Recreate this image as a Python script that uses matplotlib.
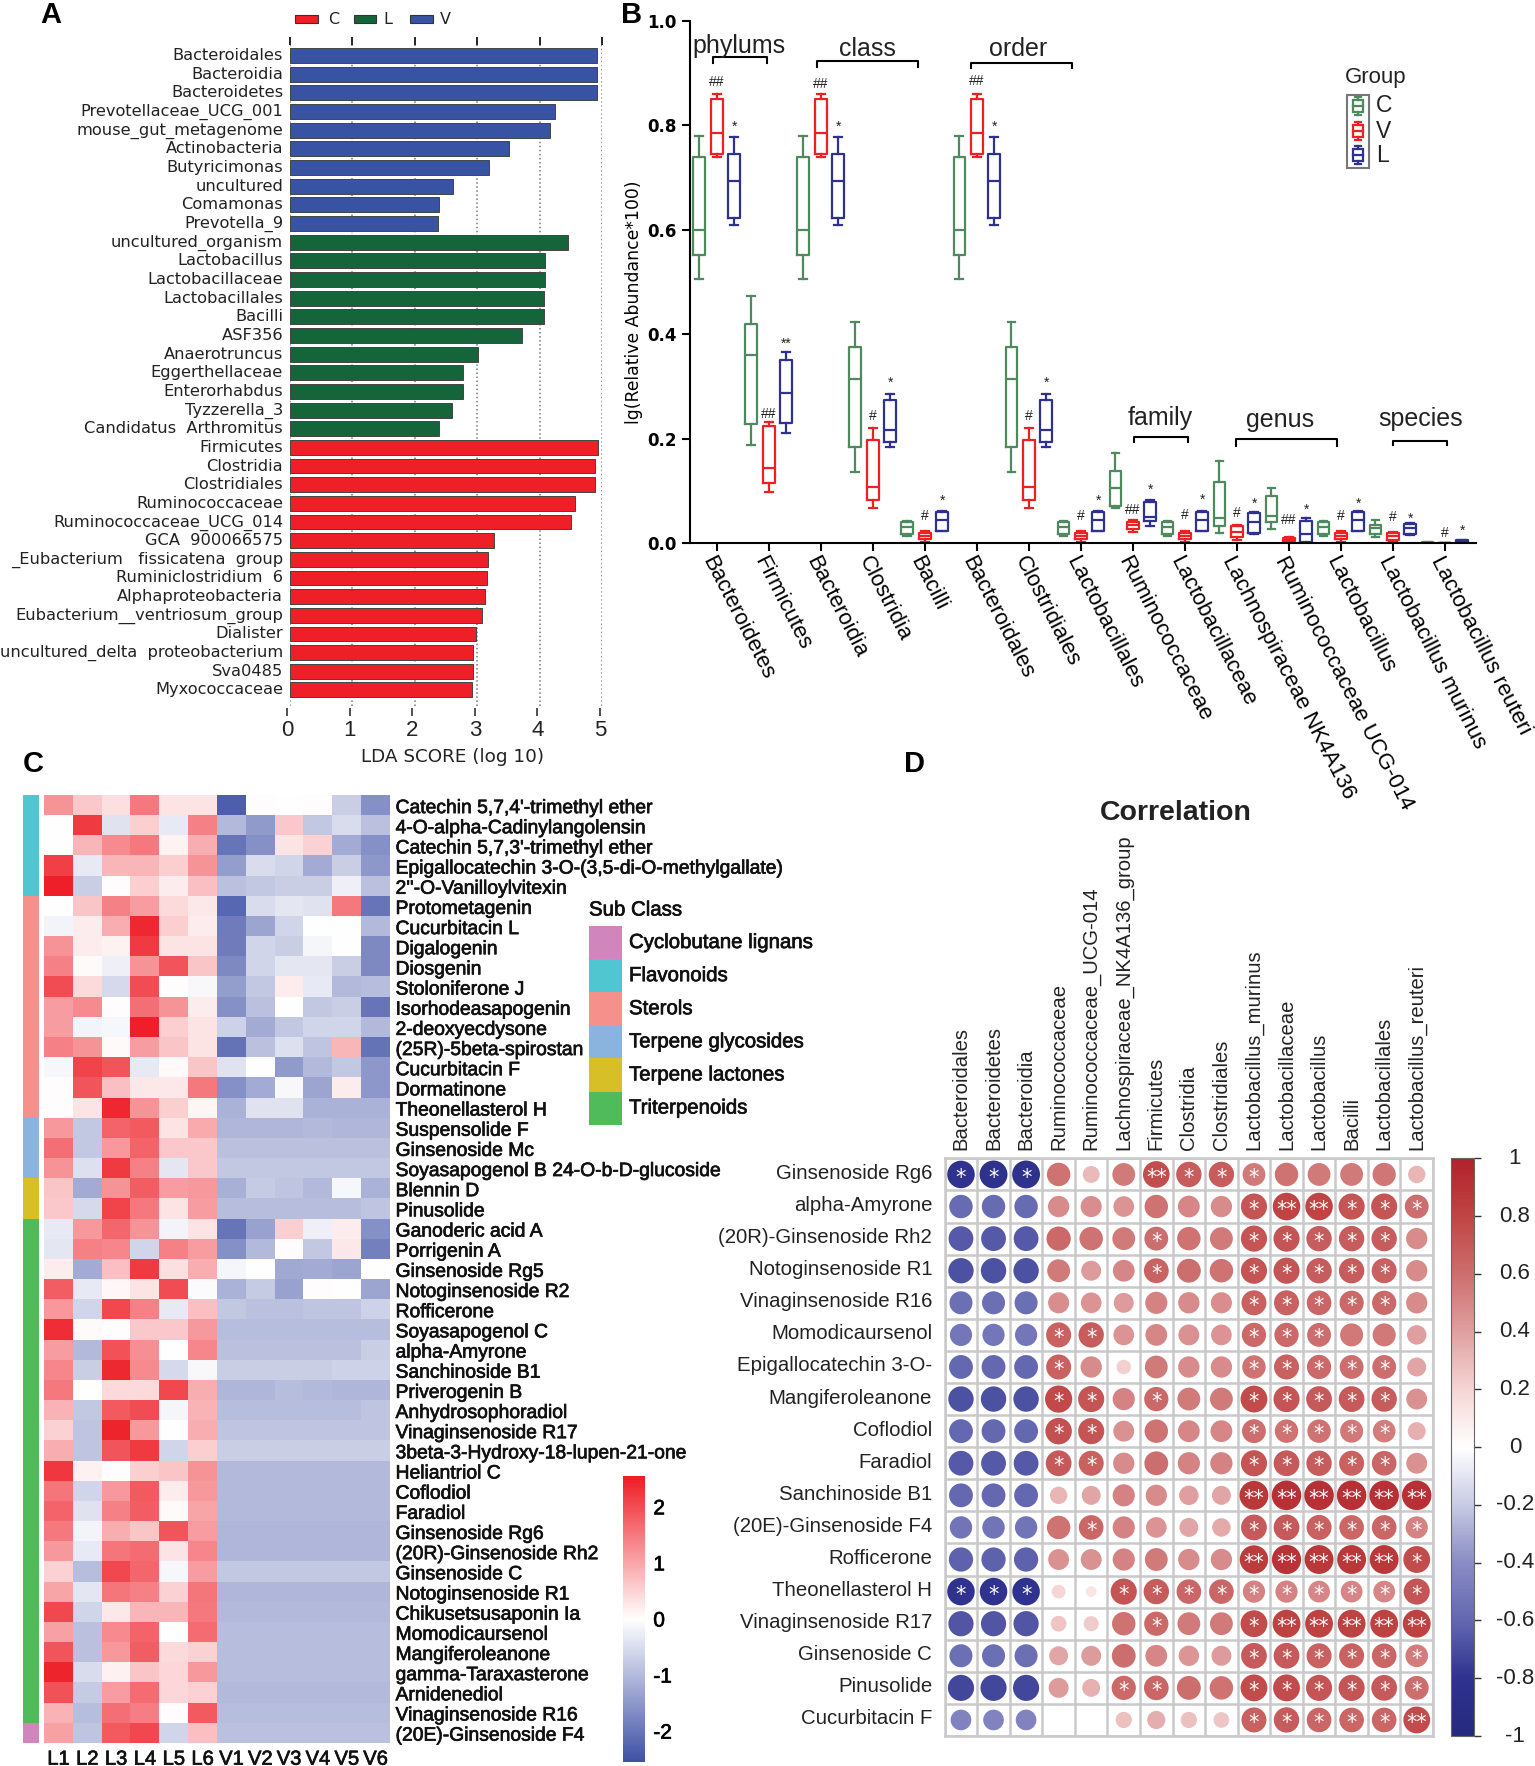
import numpy as np
import matplotlib
matplotlib.use('Agg')
import matplotlib.pyplot as plt
import matplotlib.patheffects as pe
from matplotlib.colors import LinearSegmentedColormap, ListedColormap
from matplotlib.patches import Rectangle
from matplotlib.transforms import ScaledTranslation

W, H = 1535, 1766
plt.rcParams['font.family'] = ['Liberation Sans', 'DejaVu Sans']

# Panel A data
lda_labels = ['Bacteroidales', 'Bacteroidia', 'Bacteroidetes', 'Prevotellaceae_UCG_001', 'mouse_gut_metagenome',
              'Actinobacteria', 'Butyricimonas', 'uncultured', 'Comamonas', 'Prevotella_9',
              'uncultured_organism', 'Lactobacillus', 'Lactobacillaceae', 'Lactobacillales', 'Bacilli', 'ASF356',
              'Anaerotruncus', 'Eggerthellaceae', 'Enterorhabdus', 'Tyzzerella_3', 'Candidatus  Arthromitus',
              'Firmicutes', 'Clostridia', 'Clostridiales', 'Ruminococcaceae', 'Ruminococcaceae_UCG_014',
              'GCA  900066575', '_Eubacterium   fissicatena  group', 'Ruminiclostridium  6', 'Alphaproteobacteria',
              'Eubacterium__ventriosum_group', 'Dialister', 'uncultured_delta  proteobacterium', 'Sva0485',
              'Myxococcaceae']
lda_values = [4.92, 4.92, 4.92, 4.25, 4.16, 3.51, 3.19, 2.62, 2.39, 2.37,
              4.46, 4.09, 4.09, 4.07, 4.07, 3.71, 3.01, 2.77, 2.77, 2.59, 2.39,
              4.93, 4.89, 4.89, 4.57, 4.51, 3.27, 3.18, 3.15, 3.12, 3.08, 2.98, 2.94, 2.93, 2.92]
lda_groups = ['V'] * 10 + ['L'] * 11 + ['C'] * 14
lda_colors = {'C': '#ee1f27', 'L': '#15653a', 'V': '#3953a4'}

# Panel B data, per box: low whisker, q1, median, q3, high whisker
box_names = ['Bacteroidetes', 'Firmicutes', 'Bacteroidia', 'Clostridia', 'Bacilli', 'Bacteroidales', 'Clostridiales',
             'Lactobacillales', 'Ruminococcaceae', 'Lactobacillaceae', 'Lachnospiraceae NK4A136',
             'Ruminococcaceae UCG-014', 'Lactobacillus', 'Lactobacillus murinus', 'Lactobacillus reuteri']
bact_c = [0.505, 0.552, 0.600, 0.740, 0.780]
bact_v = [0.740, 0.745, 0.785, 0.850, 0.860]
bact_l = [0.610, 0.623, 0.693, 0.746, 0.778]
firm_c = [0.187, 0.228, 0.360, 0.420, 0.473]
firm_v = [0.098, 0.115, 0.143, 0.225, 0.232]
firm_l = [0.210, 0.230, 0.288, 0.350, 0.365]
clos_c = [0.136, 0.183, 0.315, 0.375, 0.423]
clos_v = [0.067, 0.082, 0.108, 0.198, 0.220]
clos_l = [0.183, 0.193, 0.216, 0.274, 0.286]
baci_c = [0.013, 0.018, 0.030, 0.040, 0.043]
baci_v = [0.001, 0.007, 0.014, 0.020, 0.023]
baci_l = [0.023, 0.023, 0.045, 0.060, 0.062]
rumi_c = [0.068, 0.070, 0.105, 0.138, 0.173]
rumi_v = [0.022, 0.027, 0.035, 0.040, 0.045]
rumi_l = [0.033, 0.042, 0.050, 0.078, 0.082]
lach_c = [0.020, 0.033, 0.047, 0.116, 0.158]
lach_v = [0.006, 0.012, 0.022, 0.033, 0.035]
lach_l = [0.017, 0.020, 0.040, 0.058, 0.060]
ucg_c = [0.027, 0.040, 0.052, 0.090, 0.105]
ucg_v = [0.002, 0.004, 0.008, 0.010, 0.012]
ucg_l = [0.000, 0.001, 0.018, 0.042, 0.047]
muri_c = [0.012, 0.017, 0.028, 0.035, 0.044]
muri_v = [0.001, 0.006, 0.013, 0.020, 0.022]
muri_l = [0.016, 0.018, 0.028, 0.036, 0.038]
reut_c = [0.000, 0.000, 0.0005, 0.001, 0.001]
reut_v = [0.000, 0.000, 0.0003, 0.0005, 0.0005]
reut_l = [0.000, 0.001, 0.003, 0.005, 0.006]
box_stats = [bact_c, bact_v, bact_l, firm_c, firm_v, firm_l, bact_c, bact_v, bact_l,
             clos_c, clos_v, clos_l, baci_c, baci_v, baci_l, bact_c, bact_v, bact_l,
             clos_c, clos_v, clos_l, baci_c, baci_v, baci_l, rumi_c, rumi_v, rumi_l,
             baci_c, baci_v, baci_l, lach_c, lach_v, lach_l, ucg_c, ucg_v, ucg_l,
             baci_c, baci_v, baci_l, muri_c, muri_v, muri_l, reut_c, reut_v, reut_l]
sig_pos = [1, 2, 4, 5, 7, 8, 10, 11, 13, 14, 16, 17, 19, 20, 22, 23, 25, 26, 28, 29,
           31, 32, 34, 35, 37, 38, 40, 41, 43, 44]
sig_val = [0.883, 0.797, 0.247, 0.382, 0.880, 0.797, 0.243, 0.307, 0.052, 0.080, 0.886, 0.797, 0.243, 0.307,
           0.052, 0.080, 0.063, 0.102, 0.054, 0.082, 0.058, 0.076, 0.045, 0.063, 0.052, 0.076, 0.050, 0.046, 0.019, 0.023]
sig_txt = ['##', '*', '##', '**', '##', '*', '#', '*', '#', '*', '##', '*', '#', '*', '#', '*', '##', '*', '#', '*',
           '#', '*', '##', '*', '#', '*', '#', '*', '#', '*']

# Panel C data
heat_rows = ["Catechin 5,7,4'-trimethyl ether", '4-O-alpha-Cadinylangolensin', "Catechin 5,7,3'-trimethyl ether",
             'Epigallocatechin 3-O-(3,5-di-O-methylgallate)', "2''-O-Vanilloylvitexin", 'Protometagenin', 'Cucurbitacin L',
             'Digalogenin', 'Diosgenin', 'Stoloniferone J', 'Isorhodeasapogenin', '2-deoxyecdysone',
             '(25R)-5beta-spirostan', 'Cucurbitacin F', 'Dormatinone', 'Theonellasterol H', 'Suspensolide F',
             'Ginsenoside Mc', 'Soyasapogenol B 24-O-b-D-glucoside', 'Blennin D', 'Pinusolide', 'Ganoderic acid A',
             'Porrigenin A', 'Ginsenoside Rg5', 'Notoginsenoside R2', 'Rofficerone', 'Soyasapogenol C', 'alpha-Amyrone',
             'Sanchinoside B1', 'Priverogenin B', 'Anhydrosophoradiol', 'Vinaginsenoside R17',
             '3beta-3-Hydroxy-18-lupen-21-one', 'Heliantriol C', 'Coflodiol', 'Faradiol', 'Ginsenoside Rg6',
             '(20R)-Ginsenoside Rh2', 'Ginsenoside C', 'Notoginsenoside R1', 'Chikusetsusaponin Ia', 'Momodicaursenol',
             'Mangiferoleanone', 'gamma-Taraxasterone', 'Arnidenediol', 'Vinaginsenoside R16', '(20E)-Ginsenoside F4']
heat_cols = ['L1', 'L2', 'L3', 'L4', 'L5', 'L6', 'V1', 'V2', 'V3', 'V4', 'V5', 'V6']
heat_vals = [
    [1.2, .6, .35, 1.5, .3, .3, -2.35, .02, 0, .02, -.7, -1.6],
    [0, 2.2, -.4, .55, -.3, 1.4, -1.0, -1.45, .6, -.8, -.5, -.9],
    [0, .8, 1.3, 1.5, .12, .9, -2.0, -1.6, .3, .5, -1.2, -1.6],
    [2.15, -.3, .8, .8, .55, 1.2, -1.4, -.5, -.6, -1.2, -.7, -1.5],
    [2.5, -.7, .03, .55, .2, .7, -.9, -.8, -.7, -.7, -.2, -.9],
    [0, .65, 1.4, 1.1, .4, .25, -2.2, -.5, -.35, -.4, 1.5, -2.0],
    [-.15, .2, .9, 2.4, .55, .2, -1.9, -1.3, -.6, 0, 0, -1.0],
    [1.2, .2, .15, 2.2, .3, .3, -1.9, -.6, -.7, -.12, 0, -1.7],
    [1.4, .04, -.2, 1.2, 1.9, .65, -1.7, -.6, -.35, -.35, -.7, -1.7],
    [2.0, .4, -.55, 2.0, .03, -.08, -1.4, -.8, .2, -.3, -1.0, -.95],
    [1.1, 1.3, .02, 1.6, 1.2, .2, -1.6, -.9, 0, -.8, -.7, -2.0],
    [1.1, -.15, -.1, 2.5, .55, .3, -.65, -1.2, -.8, -.6, -.6, -1.0],
    [1.4, 1.2, .05, 1.1, .65, .3, -2.05, -.9, -.45, -.85, .8, -2.05],
    [-.1, 2.1, 1.9, -.3, .05, .65, -.4, 0, -1.45, -1.0, -.8, -1.5],
    [.02, 1.9, .7, .25, .25, 1.5, -1.6, -1.2, -.08, -1.3, .2, -1.5],
    [.02, .3, 2.4, 1.2, .55, .1, -1.1, -.4, -.4, -1.1, -1.1, -1.1],
    [1.15, -.8, 1.75, 1.85, .3, .95, -1.05, -1.05, -1.05, -1.0, -1.05, -1.05],
    [1.6, -.8, 1.15, 1.75, .6, .6, -.9, -.9, -.9, -.9, -.9, -.9],
    [1.2, -.45, 2.2, 1.4, -.35, .6, -.8, -.8, -.8, -.8, -.8, -.8],
    [.65, -1.2, 1.2, 1.8, 1.1, 1.15, -1.15, -.75, -.85, -1.0, -.1, -1.1],
    [.6, -.55, 2.1, 1.5, .3, 1.1, -.95, -.95, -.95, -.95, -.95, -.85],
    [-.3, 1.15, 1.7, 1.2, -.15, .3, -2.0, -1.35, .55, -.2, .2, -1.6],
    [-.35, 1.4, 1.35, -.6, 1.4, 1.1, -1.6, -1.0, .02, -.8, .25, -1.85],
    [.2, -1.2, .7, 2.2, .35, .9, -.12, 0, -1.25, -1.2, -1.3, 0],
    [1.8, -.3, .08, .3, 2.0, -.05, -1.1, -.75, -1.35, .02, 0, -1.3],
    [1.15, -.6, 2.05, 1.4, -.3, .7, -.8, -.9, -.9, -.85, -.85, -.65],
    [2.35, .05, .02, .6, .6, 1.15, -.95, -.95, -.95, -.95, -.95, -.95],
    [1.1, -1.0, 1.95, 1.25, .01, 1.35, -.9, -.9, -.9, -.9, -.9, -.7],
    [1.35, -.7, 2.4, 1.3, -.55, -.08, -.7, -.7, -.7, -.7, -.65, -.65],
    [1.5, -.01, .4, .4, 2.05, .9, -1.05, -1.05, -.95, -1.0, -1.05, -1.05],
    [.85, -.8, 1.85, 2.0, -.12, .85, -.95, -.95, -.95, -.95, -.95, -.85],
    [.5, -.85, 2.45, 1.15, .01, .9, -.85, -.85, -.85, -.85, -.85, -.85],
    [.9, -.85, 1.9, 2.2, -.6, .55, -.7, -.7, -.7, -.7, -.7, -.7],
    [2.25, .15, .02, .55, .65, 1.2, -1.0, -1.0, -1.0, -1.0, -1.0, -1.0],
    [1.55, -.6, 1.15, 1.85, .2, 1.15, -1.0, -1.0, -1.0, -1.0, -1.0, -1.0],
    [1.75, -.4, 1.4, 1.8, .04, 1.0, -1.0, -1.0, -1.0, -1.0, -1.0, -1.0],
    [1.5, -.15, .9, .65, 1.9, 1.1, -1.05, -1.05, -1.05, -1.05, -1.05, -1.05],
    [1.15, -.3, 1.55, 1.65, .3, 1.35, -1.05, -1.05, -1.05, -1.05, -1.05, -1.05],
    [.5, -.95, 2.05, 1.7, -.1, 1.1, -.8, -.8, -.8, -.8, -.8, -.8],
    [1.0, -.35, 1.55, 1.4, .5, 1.55, -1.05, -1.05, -1.05, -1.05, -1.05, -1.05],
    [2.05, -.6, .25, .8, .8, 1.5, -1.0, -1.0, -1.0, -1.0, -1.0, -1.0],
    [1.05, -.9, 1.3, 1.75, .01, 1.65, -.95, -.95, -.95, -.95, -.95, -.95],
    [1.9, -.9, 1.15, 1.8, .4, .5, -.95, -.95, -.95, -.95, -.95, -.95],
    [2.45, -.5, .15, .65, .45, 1.15, -.95, -.95, -.95, -.95, -.95, -.95],
    [1.95, -.75, 1.1, 1.65, .45, .5, -1.0, -1.0, -1.0, -1.0, -1.0, -1.0],
    [.85, -.95, 1.6, 1.45, .03, 1.85, -.95, -.95, -.95, -.95, -.95, -.95],
    [1.05, -.85, 1.85, 2.05, -.6, .7, -.9, -.9, -.9, -.9, -.9, -.9]]
sub_names = ['Cyclobutane lignans', 'Flavonoids', 'Sterols', 'Terpene glycosides', 'Terpene lactones', 'Triterpenoids']
sub_colors = ['#d086bd', '#4fc6d0', '#f5918a', '#8ab4dd', '#d6bf27', '#50bb5a']
sub_rows = [1] * 5 + [2] * 11 + [3] * 3 + [4] * 2 + [5] * 25 + [0]

# Panel D data
corr_cols = ['Bacteroidales', 'Bacteroidetes', 'Bacteroidia', 'Ruminococcaceae', 'Ruminococcaceae_UCG-014',
             'Lachnospiraceae_NK4A136_group', 'Firmicutes', 'Clostridia', 'Clostridiales', 'Lactobacillus_murinus',
             'Lactobacillaceae', 'Lactobacillus', 'Bacilli', 'Lactobacillales', 'Lactobacillus_reuteri']
corr_rows = ['Ginsenoside Rg6', 'alpha-Amyrone', '(20R)-Ginsenoside Rh2', 'Notoginsenoside R1', 'Vinaginsenoside R16',
             'Momodicaursenol', 'Epigallocatechin 3-O-', 'Mangiferoleanone', 'Coflodiol', 'Faradiol', 'Sanchinoside B1',
             '(20E)-Ginsenoside F4', 'Rofficerone', 'Theonellasterol H', 'Vinaginsenoside R17', 'Ginsenoside C',
             'Pinusolide', 'Cucurbitacin F']
corr_vals = [
    [-.8, -.82, -.82, .58, .3, .55, .75, .68, .68, .55, .58, .55, .55, .57, .32],
    [-.58, -.58, -.58, .48, .47, .45, .58, .5, .48, .72, .8, .8, .72, .72, .6],
    [-.65, -.65, -.65, .62, .58, .55, .6, .58, .55, .72, .72, .68, .68, .68, .48],
    [-.68, -.68, -.68, .55, .42, .5, .65, .6, .58, .72, .72, .68, .68, .66, .48],
    [-.56, -.56, -.56, .47, .45, .42, .52, .48, .47, .66, .66, .64, .62, .62, .48],
    [-.52, -.52, -.52, .66, .68, .45, .5, .46, .45, .62, .62, .6, .56, .56, .4],
    [-.6, -.6, -.6, .66, .48, .22, .55, .48, .48, .58, .66, .62, .6, .6, .38],
    [-.68, -.68, -.68, .78, .72, .52, .62, .55, .55, .76, .72, .7, .7, .68, .46],
    [-.6, -.6, -.6, .74, .72, .46, .58, .5, .5, .6, .58, .58, .56, .54, .34],
    [-.65, -.65, -.65, .7, .66, .48, .6, .52, .52, .72, .7, .68, .66, .64, .46],
    [-.6, -.6, -.6, .32, .38, .52, .48, .4, .38, .88, .92, .92, .92, .92, .92],
    [-.53, -.53, -.53, .58, .64, .52, .45, .38, .36, .7, .7, .66, .64, .64, .52],
    [-.62, -.62, -.62, .46, .46, .52, .55, .48, .48, .85, .9, .88, .88, .88, .76],
    [-.8, -.8, -.8, .2, .12, .72, .68, .64, .64, .52, .52, .5, .5, .5, .72],
    [-.67, -.67, -.67, .26, .24, .58, .62, .55, .55, .76, .82, .82, .82, .82, .82],
    [-.56, -.56, -.56, .38, .42, .6, .5, .44, .42, .7, .7, .66, .66, .64, .54],
    [-.72, -.72, -.72, .42, .34, .62, .64, .6, .58, .76, .76, .72, .72, .7, .6],
    [-.45, -.45, -.45, 0, .01, .28, .35, .28, .26, .66, .68, .64, .64, .64, .76]]
# number of stars in each cell
corr_sig = ['111000211100000',
            '000000000122111',
            '000000100111110',
            '000000100111110',
            '000000000111110',
            '000110000111000',
            '000100000111110',
            '000110100111110',
            '000110000111110',
            '000110000111110',
            '000000000222222',
            '000010000111111',
            '000000000222221',
            '111001111111111',
            '000000100122222',
            '000000000111111',
            '000001100111111',
            '000000000111112']


def add_px_axes(x0, y0, x1, y1):
    return fig.add_axes([x0 / W, 1 - y1 / H, (x1 - x0) / W, (y1 - y0) / H])


def nudge_labels(labels, up_px):
    # has to come after tick_params, which resets the label transforms
    for lab in labels:
        lab.set_transform(lab.get_transform() + ScaledTranslation(0, up_px / 100, fig.dpi_scale_trans))


fig = plt.figure(figsize=(W / 100, H / 100), dpi=100)
heavy = [pe.withStroke(linewidth=0.5, foreground='#111111')]

# overlay in pixel coordinates for free text and legends
ov = fig.add_axes([0, 0, 1, 1], zorder=10)
ov.set_xlim(0, W)
ov.set_ylim(H, 0)
ov.axis('off')
ov.patch.set_alpha(0)

for letter, lx, ly in [('A', 51, 15), ('B', 632, 15), ('C', 33, 764), ('D', 915, 764)]:
    ov.text(lx, ly, letter, fontsize=21, fontweight='bold', ha='center', va='center')

# ---- Panel A
ax = add_px_axes(290, 45, 602, 706)
y_pos = np.arange(len(lda_values))
ax.barh(y_pos, lda_values, height=0.8, color=[lda_colors[g] for g in lda_groups], edgecolor='#444444', linewidth=0.7,
        zorder=2)
ax.set_xlim(0, 5)
ax.set_ylim(34.86, -0.563)
ax.set_yticks(y_pos)
ax.set_yticklabels(lda_labels, fontsize=11.7, family='DejaVu Sans', color='#222222')
ax.set_xticks([0, 1, 2, 3, 4, 5])
ax.set_xticklabels([])
ax.tick_params(axis='y', length=0, pad=5)
ax.tick_params(axis='x', top=True, bottom=False, length=6, width=1.2, direction='out')
nudge_labels(ax.get_yticklabels(), 1.5)
ax.grid(axis='x', linestyle=':', color='#777777', linewidth=1.1, zorder=1)
ax.set_axisbelow(True)
for s in ax.spines.values():
    s.set_visible(False)

ax2 = add_px_axes(287, 698, 600, 708)
ax2.set_xlim(0, 5)
ax2.set_yticks([])
ax2.set_xticks([0, 1, 2, 3, 4, 5])
ax2.tick_params(axis='x', length=6, width=1.2, labelsize=16, pad=3, color='#333333', labelcolor='#222222')
ax2.patch.set_alpha(0)
for s in ax2.spines.values():
    s.set_visible(False)
ov.text(453, 757, 'LDA SCORE (log 10)', fontsize=13.2, family='DejaVu Sans', ha='center', va='center', color='#222222')

for name, px0, px1, tx in [('C', 295, 318, 334), ('L', 354, 376, 388), ('V', 410, 433, 445)]:
    ov.add_patch(Rectangle((px0, 15), px1 - px0, 8, facecolor=lda_colors[name], edgecolor='#333333', linewidth=0.8))
    ov.text(tx, 19, name, fontsize=11.5, family='DejaVu Sans', ha='center', va='center', color='#222222')

# ---- Panel B
ax = add_px_axes(690, 21, 1476, 543)
box_cols = ['#4f8a5f', '#ed2024', '#2e3192']
stats = [dict(whislo=s[0], q1=s[1], med=s[2], q3=s[3], whishi=s[4], fliers=[]) for s in box_stats]
for k in range(3):
    ax.bxp(stats[k::3], positions=np.arange(k, len(stats), 3), widths=0.68, capwidths=0.45, showfliers=False,
           manage_ticks=False,
           boxprops=dict(color=box_cols[k], linewidth=1.6), medianprops=dict(color=box_cols[k], linewidth=1.6),
           whiskerprops=dict(color=box_cols[k], linewidth=1.6), capprops=dict(color=box_cols[k], linewidth=1.6))
for sx, sy, st in zip(sig_pos, sig_val, sig_txt):
    ax.text(sx, sy, st, fontsize=10, ha='center', va='center', color='#222222')
ax.set_xlim(-0.54, 44.8)
ax.set_ylim(0, 1.0)
ax.set_yticks([0, 0.2, 0.4, 0.6, 0.8, 1.0])
ax.set_yticklabels(['0.0', '0.2', '0.4', '0.6', '0.8', '1.0'], fontsize=12, fontweight='bold', family='DejaVu Sans')
ax.set_xticks(np.arange(1, 45, 3))
ax.set_xticklabels(box_names, rotation=-63, ha='left', va='top', rotation_mode='anchor', fontsize=15.9)
ax.tick_params(axis='both', width=1.5, length=6)
ax.tick_params(axis='x', pad=1)
ax.spines['top'].set_visible(False)
ax.spines['right'].set_visible(False)
ax.spines['left'].set_linewidth(1.5)
ax.spines['bottom'].set_linewidth(1.5)
ax.patch.set_alpha(0)
ov.text(634, 302, 'lg(Relative Abundance*100)', fontsize=12.4, rotation=90, family='DejaVu Sans', ha='center',
        va='center')

for txt, x0, x1, ytop, ybot, tx, ty in [('phylums', 713, 767, 57, 63, 739, 46), ('class', 817, 918, 61, 67, 867, 49),
                                        ('order', 971, 1072, 63, 68, 1018, 49),
                                        ('family', 1134, 1188, 437, 442, 1160, 418),
                                        ('genus', 1236, 1337, 439, 446, 1280, 420),
                                        ('species', 1393, 1447, 441, 445, 1421, 419)]:
    ov.plot([x0, x0, x1, x1], [ybot, ytop, ytop, ybot], color='black', linewidth=1.5)
    ov.text(tx, ty, txt, fontsize=18, ha='center', va='center', color='#222222')

ov.text(1376, 78, 'Group', fontsize=16, ha='center', va='center', color='#222222')
ov.add_patch(Rectangle((1347, 95), 22, 73, facecolor='none', edgecolor='#777777', linewidth=1.5))
for name, col, gy in [('C', box_cols[0], 106), ('V', box_cols[1], 131), ('L', box_cols[2], 155)]:
    ov.add_patch(Rectangle((1353, gy - 6), 10, 12, facecolor='none', edgecolor=col, linewidth=1.6))
    ov.plot([1353, 1363], [gy, gy], color=col, linewidth=1.6)
    ov.plot([1358, 1358], [gy - 9, gy - 6], color=col, linewidth=1.6)
    ov.plot([1358, 1358], [gy + 6, gy + 9], color=col, linewidth=1.6)
    ov.plot([1355, 1361], [gy - 9, gy - 9], color=col, linewidth=1.6)
    ov.plot([1355, 1361], [gy + 9, gy + 9], color=col, linewidth=1.6)
    ov.text(1376, gy, name, fontsize=16.5, ha='left', va='center', color='#222222')

# ---- Panel C
heat_cmap = LinearSegmentedColormap.from_list('heat', ['#3f50a5', '#ffffff', '#ee1c25'])
ax = add_px_axes(44, 795, 390, 1742.7)
im = ax.imshow(np.array(heat_vals), aspect='auto', cmap=heat_cmap, vmin=-2.55, vmax=2.55, interpolation='nearest')
ax.set_yticks(np.arange(len(heat_rows)))
ax.set_yticklabels(heat_rows, fontsize=13.9, color='#111111', path_effects=heavy)
ax.yaxis.tick_right()
ax.set_xticks(np.arange(len(heat_cols)))
ax.set_xticklabels(heat_cols, fontsize=14.5, color='#111111', path_effects=heavy)
ax.tick_params(length=0)
ax.tick_params(axis='y', pad=4)
ax.tick_params(axis='x', pad=5)
nudge_labels(ax.get_yticklabels(), -1.5)
for s in ax.spines.values():
    s.set_visible(False)

ax = add_px_axes(23, 795, 39, 1742.7)
ax.imshow(np.array(sub_rows).reshape(-1, 1), aspect='auto', cmap=ListedColormap(sub_colors), vmin=0, vmax=5,
          interpolation='nearest')
ax.axis('off')

ov.text(589, 910, 'Sub Class', fontsize=14.7, ha='left', va='center', color='#111111', path_effects=heavy)
for k, (name, col) in enumerate(zip(sub_names, sub_colors)):
    ov.add_patch(Rectangle((589, 926 + k * 33.1), 33, 33.1, facecolor=col, edgecolor='none'))
    ov.text(629, 926 + (k + 0.5) * 33.1, name, fontsize=14.7, ha='left', va='center', color='#111111',
            path_effects=heavy)

cax = add_px_axes(623, 1476, 645, 1762)
cb = fig.colorbar(im, cax=cax)
cb.set_ticks([-2, -1, 0, 1, 2])
cb.set_ticklabels(['-2', '-1', '0', '1', '2'])
cb.ax.tick_params(length=0, labelsize=15, pad=6)
for lab in cb.ax.get_yticklabels():
    lab.set_path_effects(heavy)
cb.outline.set_visible(False)

# ---- Panel D
corr_cmap = LinearSegmentedColormap.from_list(
    'corr', [(0, '#25297e'), (0.1, '#2f338f'), (0.2, '#6468b0'), (0.3, '#8a8cc4'), (0.4, '#c8cbe4'), (0.5, '#ffffff'),
             (0.6, '#f5d5d5'), (0.7, '#e0a0a0'), (0.8, '#cd6e6e'), (0.9, '#c04545'), (1, '#b2222a')])
ax = add_px_axes(944.7, 1158.4, 1433, 1736)
corr_arr = np.array(corr_vals)
xx, yy = np.meshgrid(np.arange(corr_arr.shape[1]), np.arange(corr_arr.shape[0]))
full_size = (0.95 * 32.4 * 0.72) ** 2
ax.scatter(xx.ravel(), yy.ravel(), s=full_size * np.abs(corr_arr).ravel(), c=corr_arr.ravel(), cmap=corr_cmap,
           vmin=-1, vmax=1, linewidths=0, zorder=3)
for i, row in enumerate(corr_sig):
    for j, n in enumerate(row):
        if n != '0':
            ax.text(j, i + 0.1, '*' * int(n), color='white', fontsize=15, ha='center', va='center', zorder=4,
                    family='DejaVu Sans')
ax.set_xlim(-0.5, 14.5)
ax.set_ylim(17.5, -0.5)
ax.set_xticks(np.arange(-0.5, 15), minor=True)
ax.set_yticks(np.arange(-0.5, 18), minor=True)
ax.grid(which='minor', color='#c9c9c9', linewidth=1.8, zorder=1)
ax.set_xticks(np.arange(15))
ax.set_xticklabels(corr_cols, rotation=90, fontsize=14.6, color='#222222')
ax.set_yticks(np.arange(18))
ax.set_yticklabels(corr_rows, fontsize=14.7, color='#222222')
ax.xaxis.tick_top()
ax.tick_params(which='both', length=0)
ax.tick_params(axis='x', pad=6)
ax.tick_params(axis='y', pad=9)
nudge_labels(ax.get_yticklabels(), 3)
for s in ax.spines.values():
    s.set_color('#c9c9c9')
    s.set_linewidth(1.8)
ov.text(1176, 813, 'Correlation', fontsize=20.5, fontweight='bold', ha='center', va='center', color='#222222')

cax = add_px_axes(1451, 1158.4, 1474, 1736)
sm = plt.cm.ScalarMappable(cmap=corr_cmap, norm=plt.Normalize(-1, 1))
cb2 = fig.colorbar(sm, cax=cax)
cb_ticks = [-1, -0.8, -0.6, -0.4, -0.2, 0, 0.2, 0.4, 0.6, 0.8, 1]
cb_labels = ['-1', '-0.8', '-0.6', '-0.4', '-0.2', '0', '0.2', '0.4', '0.6', '0.8', '1']
cb2.set_ticks(cb_ticks)
cb2.set_ticklabels([''] * len(cb_ticks))
cb2.ax.tick_params(length=5, width=1, color='#333333')
cb2.outline.set_edgecolor('#666666')
for t, lab in zip(cb_ticks, cb_labels):
    # centred column of labels beside the colour bar
    cb2.ax.annotate(lab, xy=(1, t), xycoords=cb2.ax.get_yaxis_transform(), xytext=(41, 0),
                    textcoords='offset pixels', fontsize=16, ha='center', va='center', color='#222222',
                    annotation_clip=False)

fig.savefig('out.png', dpi=100)
